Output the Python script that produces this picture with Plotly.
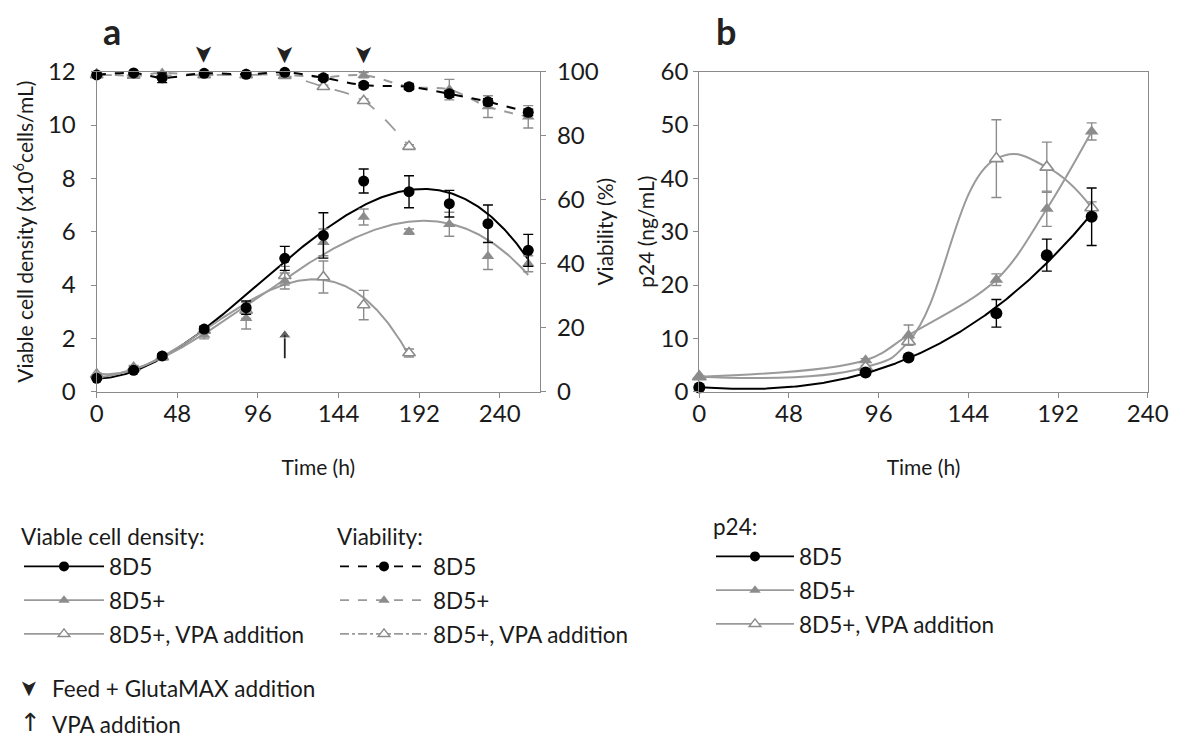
import numpy as np
import plotly.graph_objects as go

# ---------------- data ----------------
# Panel a: sampling times (h)
t_a = [0, 22, 39, 64, 89, 112, 135, 159, 186, 210, 233, 257]
t_vpa = [0, 22, 39, 64, 89, 112, 135, 159, 186]
feed_times = [64, 112, 159]
vpa_time = 112

# Viable cell density (x10^6 cells/mL)
vcd_8d5 = [0.5, 0.8, 1.34, 2.35, 3.15, 5.0, 5.86, 7.9, 7.5, 7.05, 6.3, 5.3]
vcd_8d5_err = [0.05, 0.05, 0.08, 0.1, 0.25, 0.45, 0.85, 0.45, 0.6, 0.5, 0.7, 0.6]
vcd_plus = [0.6, 0.85, 1.28, 2.13, 2.75, 4.15, 5.6, 6.55, 6.0, 6.28, 5.08, 4.8]
vcd_plus_err = [0.05, 0.1, 0.08, 0.15, 0.4, 0.3, 0.5, 0.3, 0.1, 0.45, 0.5, 0.3]
vcd_vpa = [0.65, 0.9, 1.3, 2.3, 3.05, 4.35, 4.3, 3.25, 1.45]
vcd_vpa_err = [0.05, 0.08, 0.08, 0.1, 0.3, 0.35, 0.6, 0.55, 0.15]

# Viability (%)
via_8d5 = [99.0, 99.6, 98.1, 99.5, 99.2, 99.8, 98.1, 95.8, 95.3, 93.1, 90.6, 87.3]
via_8d5_err = [0.5, 0.5, 1.5, 0.5, 0.5, 0.5, 0.8, 0.8, 0.8, 1.0, 1.0, 1.0]
via_plus = [99.5, 98.7, 99.6, 99.0, 99.2, 99.0, 98.3, 98.9, 95.3, 94.4, 89.1, 85.9]
via_plus_err = [0.5, 0.8, 0.8, 0.5, 0.5, 0.5, 0.8, 0.8, 1.0, 3.2, 3.4, 3.5]
via_vpa = [99.0, 98.8, 98.8, 99.0, 99.0, 98.75, 95.3, 90.9, 76.6]
via_vpa_err = [0.4, 0.4, 0.4, 0.4, 0.4, 0.4, 0.5, 0.6, 0.6]

# Panel b: p24 (ng/mL)
t_b = [0, 89, 112, 159, 186, 210]
p24_8d5 = [0.8, 3.6, 6.4, 14.7, 25.6, 32.8]
p24_8d5_err = [0.2, 0.3, 0.4, 2.6, 3.0, 5.4]
p24_plus = [2.8, 5.9, 10.6, 21.0, 34.3, 48.8]
p24_plus_err = [0.2, 0.3, 1.9, 1.1, 3.3, 1.6]
p24_vpa = [2.8, 4.6, 9.4, 43.7, 42.1, 34.5]
p24_vpa_err = [0.2, 0.3, 0.5, 7.3, 4.7, 1.1]

# Axis ticks
time_ticks_a = [0, 48, 96, 144, 192, 240]
time_ticks_b = [0, 48, 96, 144, 192, 240]

# ---------------- style ----------------
W, H = 1178, 740
FONT = "Lato"
TXT = "#1a1a1a"
BLACK = "#000000"
GRAY = "#8c8c8c"
LGRAY = "#9a9a9a"
AXC = "#8a8a8a"
DARK = "#222222"


def px(x):
    return x / W


def py(y):
    return 1 - y / H


def trend(t, y, deg, n=300):
    """Polynomial trendline evaluated over the sampled interval."""
    c = np.polyfit(t, y, deg)
    tt = np.linspace(min(t), max(t), n)
    return tt, np.polyval(c, tt)


def err(vals, color):
    return dict(type="data", array=vals, visible=True, color=color,
                thickness=1.4, width=5)


fig = go.Figure()

# ---- Panel a: VCD trendlines ----
for t, y, col in [(t_a, vcd_8d5, BLACK), (t_a, vcd_plus, LGRAY), (t_vpa, vcd_vpa, LGRAY)]:
    tt, yy = trend(t, y, 3)
    fig.add_trace(go.Scatter(x=tt, y=yy, mode="lines", line=dict(color=col, width=2),
                             showlegend=False, hoverinfo="skip", xaxis="x", yaxis="y"))

# ---- Panel a: viability (right axis) ----
fig.add_trace(go.Scatter(x=t_vpa, y=via_vpa, mode="lines+markers", yaxis="y2", xaxis="x",
                         line=dict(color=LGRAY, width=1.8, dash="longdash", shape="spline"),
                         marker=dict(symbol="triangle-up", size=11, color="white",
                                     line=dict(width=1.6, color=GRAY)),
                         error_y=err(via_vpa_err, GRAY), cliponaxis=False, showlegend=False))
fig.add_trace(go.Scatter(x=t_a, y=via_plus, mode="lines+markers", yaxis="y2", xaxis="x",
                         line=dict(color=LGRAY, width=2, dash="dash", shape="spline"),
                         marker=dict(symbol="triangle-up", size=11, color=GRAY),
                         error_y=err(via_plus_err, GRAY), cliponaxis=False, showlegend=False))
fig.add_trace(go.Scatter(x=t_a, y=via_8d5, mode="lines+markers", yaxis="y2", xaxis="x",
                         line=dict(color=BLACK, width=2, dash="dash", shape="spline"),
                         marker=dict(symbol="circle", size=11, color=BLACK),
                         error_y=err(via_8d5_err, BLACK), cliponaxis=False, showlegend=False))

# ---- Panel a: VCD points ----
fig.add_trace(go.Scatter(x=t_vpa, y=vcd_vpa, mode="markers", xaxis="x", yaxis="y",
                         marker=dict(symbol="triangle-up", size=11, color="white",
                                     line=dict(width=1.6, color=GRAY)),
                         error_y=err(vcd_vpa_err, GRAY), cliponaxis=False, showlegend=False))
fig.add_trace(go.Scatter(x=t_a, y=vcd_plus, mode="markers", xaxis="x", yaxis="y",
                         marker=dict(symbol="triangle-up", size=11, color=GRAY),
                         error_y=err(vcd_plus_err, GRAY), cliponaxis=False, showlegend=False))
fig.add_trace(go.Scatter(x=t_a, y=vcd_8d5, mode="markers", xaxis="x", yaxis="y",
                         marker=dict(symbol="circle", size=11, color=BLACK),
                         error_y=err(vcd_8d5_err, BLACK), cliponaxis=False, showlegend=False))

# VPA addition arrow (stem + head) in panel a
fig.add_trace(go.Scatter(x=[vpa_time, vpa_time], y=[1.25, 2.12], mode="lines+markers",
                         xaxis="x", yaxis="y", showlegend=False, hoverinfo="skip",
                         line=dict(color=DARK, width=1.8),
                         marker=dict(symbol=["circle", "triangle-up"], size=[0, 11], color=DARK)))

# ---- Panel b: p24 ----
fig.add_trace(go.Scatter(x=t_b, y=p24_vpa, mode="lines+markers", xaxis="x2", yaxis="y3",
                         line=dict(color=LGRAY, width=2, shape="spline", smoothing=1.3),
                         marker=dict(symbol="triangle-up", size=12, color="white",
                                     line=dict(width=1.6, color=GRAY)),
                         error_y=err(p24_vpa_err, GRAY), cliponaxis=False, showlegend=False))
fig.add_trace(go.Scatter(x=t_b, y=p24_plus, mode="lines+markers", xaxis="x2", yaxis="y3",
                         line=dict(color=LGRAY, width=2, shape="spline", smoothing=1.0),
                         marker=dict(symbol="triangle-up", size=12, color=GRAY),
                         error_y=err(p24_plus_err, GRAY), cliponaxis=False, showlegend=False))
tt, yy = trend(t_b, p24_8d5, 3)
fig.add_trace(go.Scatter(x=tt, y=yy, mode="lines", xaxis="x2", yaxis="y3",
                         line=dict(color=BLACK, width=2), showlegend=False, hoverinfo="skip"))
fig.add_trace(go.Scatter(x=t_b, y=p24_8d5, mode="markers", xaxis="x2", yaxis="y3",
                         marker=dict(symbol="circle", size=12, color=BLACK),
                         error_y=err(p24_8d5_err, BLACK), cliponaxis=False, showlegend=False))

# ---- Legend entries ----
names = ["8D5", "8D5+", "8D5+, VPA addition"]
legend_specs = [
    ("legend", [dict(color=BLACK, dash="solid"), dict(color=LGRAY, dash="solid"),
                dict(color=LGRAY, dash="solid")]),
    ("legend2", [dict(color=BLACK, dash="dash"), dict(color=LGRAY, dash="dash"),
                 dict(color=LGRAY, dash="dashdot")]),
    ("legend3", [dict(color=BLACK, dash="solid"), dict(color=LGRAY, dash="solid"),
                 dict(color=LGRAY, dash="solid")]),
]
marker_specs = [dict(symbol="circle", size=10, color=BLACK),
                dict(symbol="triangle-up", size=10, color=GRAY),
                dict(symbol="triangle-up", size=10, color="white", line=dict(width=1.5, color=GRAY))]
for lg, lines in legend_specs:
    for i, (nm, ln) in enumerate(zip(names, lines)):
        fig.add_trace(go.Scatter(x=[None], y=[None], mode="lines+markers", name=nm,
                                 legend=lg, legendgroup=f"{lg}-{i}",
                                 line=dict(width=1.8, **ln), marker=marker_specs[i],
                                 xaxis="x", yaxis="y"))

LEG_FS = 22.5


def legend_box(x0, y0, title, item_w):
    return dict(x=px(x0), y=py(y0), xanchor="left", yanchor="top",
                title=dict(text=title, font=dict(family=FONT, size=LEG_FS, color=TXT)),
                font=dict(family=FONT, size=LEG_FS, color=TXT), bgcolor="rgba(0,0,0,0)",
                traceorder="grouped", tracegroupgap=1.5, itemwidth=item_w, itemclick=False)


fig.update_layout(
    legend=legend_box(19, 516, "Viable cell density:", 80),
    legend2=legend_box(335, 516, "Viability:", 88),
    legend3=legend_box(711, 506, "p24:", 78),
)

# ---------------- axes ----------------
dom_ax = [px(96.7), px(540)]
dom_bx = [px(699.3), px(1147.7)]
dom_y = [py(391.7), py(71.7)]
tick_font = dict(family=FONT, size=24, color=TXT)
title_font = dict(family=FONT, size=21, color=TXT)
axis_common = dict(showgrid=False, zeroline=False, showline=True, linecolor=AXC, linewidth=1.3,
                   ticks="outside", ticklen=5, tickcolor=AXC, tickfont=tick_font,
                   automargin=False)

fig.update_layout(
    xaxis=dict(domain=dom_ax, range=[0, 264], tickvals=time_ticks_a, anchor="y", mirror=True,
               ticklabelstandoff=-5,
               title=dict(text="Time (h)", font=title_font, standoff=34), **axis_common),
    yaxis=dict(domain=dom_y, range=[0, 12], dtick=2, anchor="x",
               title=dict(text="Viable cell density (x10<sup>6</sup>cells/mL)", font=title_font,
                          standoff=8), ticklabelstandoff=10, **axis_common),
    yaxis2=dict(domain=dom_y, range=[0, 100], dtick=20, overlaying="y", side="right", anchor="x",
                title=dict(text="Viability (%)", font=title_font, standoff=0),
                ticklabelstandoff=6, **axis_common),
    xaxis2=dict(domain=dom_bx, range=[0, 240], tickvals=time_ticks_b, anchor="y3", mirror=True,
                ticklabelstandoff=-5,
                title=dict(text="Time (h)", font=title_font, standoff=34), **axis_common),
    yaxis3=dict(domain=dom_y, range=[0, 60], dtick=10, anchor="x2", mirror=True,
                title=dict(text="p24 (ng/mL)", font=title_font, standoff=0), **axis_common),
)

# ---------------- annotations ----------------
ann = [
    dict(text="<b>a</b>", x=px(101), y=py(31), xref="paper", yref="paper", showarrow=False,
         xanchor="left", yanchor="middle", font=dict(family=FONT, size=36, color=DARK)),
    dict(text="<b>b</b>", x=px(714), y=py(31), xref="paper", yref="paper", showarrow=False,
         xanchor="left", yanchor="middle", font=dict(family=FONT, size=36, color=DARK)),
    # note legend
    dict(text="➤", textangle=90, x=px(30), y=py(688), xref="paper", yref="paper",
         xanchor="center", yanchor="middle", showarrow=False,
         font=dict(family="DejaVu Sans", size=22, color=DARK)),
    dict(text="Feed + GlutaMAX addition", x=px(50), y=py(688), xref="paper", yref="paper",
         showarrow=False, xanchor="left", yanchor="middle",
         font=dict(family=FONT, size=LEG_FS, color=TXT)),
    dict(text="↑", x=px(30), y=py(722), xref="paper", yref="paper", showarrow=False,
         xanchor="center", yanchor="middle",
         font=dict(family="DejaVu Sans", size=25, color=DARK)),
    dict(text="VPA addition", x=px(50), y=py(724), xref="paper", yref="paper",
         showarrow=False, xanchor="left", yanchor="middle",
         font=dict(family=FONT, size=LEG_FS, color=TXT)),
]
# Feed + GlutaMAX arrowheads above panel a
for ft in feed_times:
    ann.append(dict(text="➤", textangle=90, x=ft, y=py(54), xref="x", yref="paper",
                    xanchor="center", yanchor="middle", showarrow=False,
                    font=dict(family="DejaVu Sans", size=24, color=DARK)))

fig.update_layout(
    width=W, height=H, margin=dict(l=0, r=0, t=0, b=0, autoexpand=False),
    paper_bgcolor="white", plot_bgcolor="white",
    font=dict(family=FONT, color=TXT),
    annotations=ann,
)

fig.write_html("out.html")
